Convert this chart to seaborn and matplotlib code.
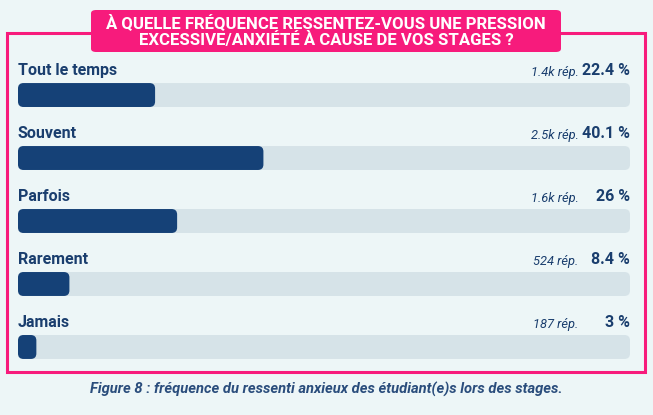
import matplotlib
matplotlib.use("Agg")
import matplotlib.pyplot as plt
import seaborn as sns
import pandas as pd
from matplotlib.patches import FancyBboxPatch, Rectangle

categories = ["Tout le temps", "Souvent", "Parfois", "Rarement", "Jamais"]
percents = [22.4, 40.1, 26.0, 8.4, 3.0]
pct_labels = ["22.4 %", "40.1 %", "26 %", "8.4 %", "3 %"]
responses = ["1.4k rép.", "2.5k rép.", "1.6k rép.", "524 rép.", "187 rép."]
title_lines = "À QUELLE FRÉQUENCE RESSENTEZ-VOUS UNE PRESSION\nEXCESSIVE/ANXIÉTÉ À CAUSE DE VOS STAGES ?"
caption = "Figure 8 : fréquence du ressenti anxieux des étudiant(e)s lors des stages."

BG = "#edf6f7"
NAVY = "#154177"
TRACK = "#d6e3e8"
PINK = "#f71b7c"
TEXT = "#1a3e6e"

sns.set_theme(style="white")
plt.rcParams["font.family"] = ["Roboto", "DejaVu Sans"]

W, H = 653, 415
fig = plt.figure(figsize=(W / 100, H / 100), dpi=100, facecolor=BG)

# frame
fig.patches.append(Rectangle((7 / W, 1 - 372 / H), (645 - 7) / W, (372 - 33) / H,
                             transform=fig.transFigure, fill=False,
                             edgecolor=PINK, linewidth=2.2, zorder=1))

# axes for bars
top_px, bot_px = 60, 365
ax = fig.add_axes([18 / W, 1 - bot_px / H, 612 / W, (bot_px - top_px) / H])
ax.set_facecolor("none")

df = pd.DataFrame({"cat": categories, "pct": percents, "full": [100.0] * len(categories)})
sns.barplot(data=df, y="cat", x="full", color=TRACK, width=0.38, ax=ax, orient="h", saturation=1)
sns.barplot(data=df, y="cat", x="pct", color=NAVY, width=0.38, ax=ax, orient="h", saturation=1)
ax.set_xlim(0, 100)
ax.set_ylim(4.286, -0.556)

# replace rectangles with rounded ones
px_per_x = 612 / 100
px_per_y = 63
r_px = 5.5
patches = list(ax.patches)
for i, p in enumerate(patches):
    x, y = p.get_x(), p.get_y()
    w, h = p.get_width(), p.get_height()
    fc = p.get_facecolor()
    p.remove()
    fb = FancyBboxPatch((x, y), w, h,
                        boxstyle=f"round,pad=0,rounding_size={r_px / px_per_x}",
                        mutation_aspect=px_per_x / px_per_y,
                        facecolor=fc, edgecolor="none", zorder=2 if i >= len(categories) else 1)
    ax.add_patch(fb)

for i, cat in enumerate(categories):
    ty = i - 0.38 / 2 - 0.08
    ax.text(0, ty, cat, ha="left", va="bottom", fontsize=11.5, fontweight="bold", color=TEXT)
    ax.text(100, ty, pct_labels[i], ha="right", va="bottom", fontsize=11.5, fontweight="bold", color=TEXT)
    ax.text(91.6, ty + 0.01, responses[i], ha="right", va="bottom", fontsize=9.3, fontstyle="italic", color=TEXT)

ax.set_xlabel("")
ax.set_ylabel("")
ax.set_xticks([])
ax.set_yticks([])
for s in ax.spines.values():
    s.set_visible(False)

# title box
fig.patches.append(FancyBboxPatch((91 / W, 1 - 52 / H), (561 - 91) / W, (52 - 10) / H,
                                  boxstyle="round,pad=0,rounding_size=0.008",
                                  transform=fig.transFigure, facecolor=PINK,
                                  edgecolor="none", zorder=3))
fig.text(326 / W, 1 - 31 / H, title_lines, ha="center", va="center", fontsize=12.1,
         fontweight="bold", color="white", linespacing=1.05, zorder=4)

fig.text(326 / W, 1 - 389 / H, caption, ha="center", va="center", fontsize=10.6,
         fontweight="bold", fontstyle="italic", color="#2a4d7c")

fig.savefig("out.png", dpi=100, facecolor=BG)
